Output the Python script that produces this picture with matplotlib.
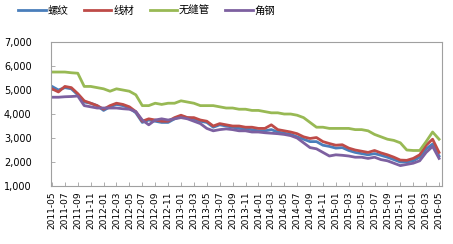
import matplotlib.pyplot as plt

plt.rcParams['font.family'] = ['Noto Sans CJK SC', 'DejaVu Sans']

# month labels 2011-05 .. 2016-05
months = []
for y in range(2011, 2017):
    for m in range(1, 13):
        if (y == 2011 and m < 5) or (y == 2016 and m > 5):
            continue
        months.append('%d-%02d' % (y, m))

luowen = [5150, 5000, 5100, 5050, 4800, 4500, 4450, 4350, 4150, 4300,
          4400, 4350, 4250, 4050, 3650, 3750, 3700, 3650, 3650, 3800,
          3900, 3850, 3800, 3700, 3650, 3450, 3550, 3500, 3450, 3400,
          3380, 3350, 3300, 3300, 3350, 3250, 3200, 3150, 3050, 2950,
          2850, 2850, 2700, 2650, 2580, 2600, 2480, 2400, 2350, 2300,
          2350, 2280, 2200, 2100, 2000, 2000, 2050, 2200, 2550, 2750, 2250]
xiancai = [5050, 4920, 5150, 5100, 4850, 4550, 4450, 4350, 4200, 4350,
           4450, 4400, 4300, 4100, 3700, 3800, 3750, 3700, 3700, 3850,
           3950, 3850, 3850, 3750, 3700, 3500, 3600, 3550, 3500, 3500,
           3450, 3450, 3400, 3400, 3550, 3350, 3300, 3250, 3180, 3050,
           2980, 3020, 2850, 2770, 2700, 2720, 2580, 2500, 2450, 2400,
           2480, 2380, 2300, 2200, 2080, 2070, 2150, 2300, 2700, 2950, 2400]
wufengguan = [5750, 5750, 5750, 5720, 5700, 5150, 5150, 5100, 5050, 4950,
              5050, 5000, 4950, 4800, 4350, 4350, 4450, 4400, 4450, 4450,
              4550, 4500, 4450, 4350, 4350, 4350, 4300, 4250, 4250, 4200,
              4200, 4150, 4150, 4100, 4050, 4050, 4000, 4000, 3950, 3850,
              3650, 3450, 3450, 3400, 3400, 3400, 3400, 3350, 3350, 3300,
              3150, 3050, 2950, 2900, 2800, 2500, 2480, 2480, 2850, 3250, 2950]
jiaogang = [4700, 4700, 4720, 4730, 4750, 4350, 4300, 4250, 4250, 4250,
            4250, 4220, 4200, 4100, 3750, 3550, 3750, 3800, 3750, 3800,
            3850, 3800, 3700, 3600, 3400, 3300, 3350, 3380, 3350, 3300,
            3300, 3250, 3250, 3220, 3200, 3180, 3150, 3100, 3000, 2800,
            2600, 2550, 2400, 2250, 2300, 2280, 2250, 2200, 2200, 2150,
            2200, 2100, 2050, 1950, 1850, 1900, 1950, 2050, 2400, 2650, 2150]

series = [('螺纹', luowen, '#4a7ebb'),
          ('线材', xiancai, '#be4b48'),
          ('无缝管', wufengguan, '#98b954'),
          ('角钢', jiaogang, '#7d60a0')]

fig = plt.figure(figsize=(4.53, 2.44), dpi=100)
ax = fig.add_axes([0.1126, 0.2377, 0.863, 0.59])

x = list(range(len(months)))
for name, vals, c in series:
    ax.plot(x, vals, color=c, lw=2.0, label=name)

ax.set_xlim(-0.15, 60.45)
ax.set_ylim(1000, 7000)
ax.set_xticks(x[::2])
ax.set_xticklabels(months[::2], rotation=90, fontsize=6.5, family='DejaVu Sans')
ax.set_yticks(range(1000, 7001, 1000))
ax.set_yticklabels(['{:,}'.format(v) for v in range(1000, 7001, 1000)],
                   fontsize=7, family='DejaVu Sans')
ax.tick_params(axis='both', direction='in', length=3, width=0.6,
               color='#a0a0a0', pad=4)
ax.tick_params(axis='y', pad=14)
for s in ax.spines.values():
    s.set_color('#a0a0a0')
    s.set_linewidth(0.8)

fig.legend(loc='upper left', bbox_to_anchor=(0.02, 1.015), ncol=4,
           frameon=False, fontsize=7.5, handlelength=2.6, handletextpad=0.2,
           columnspacing=1.5)

fig.savefig('out.png', dpi=100)
